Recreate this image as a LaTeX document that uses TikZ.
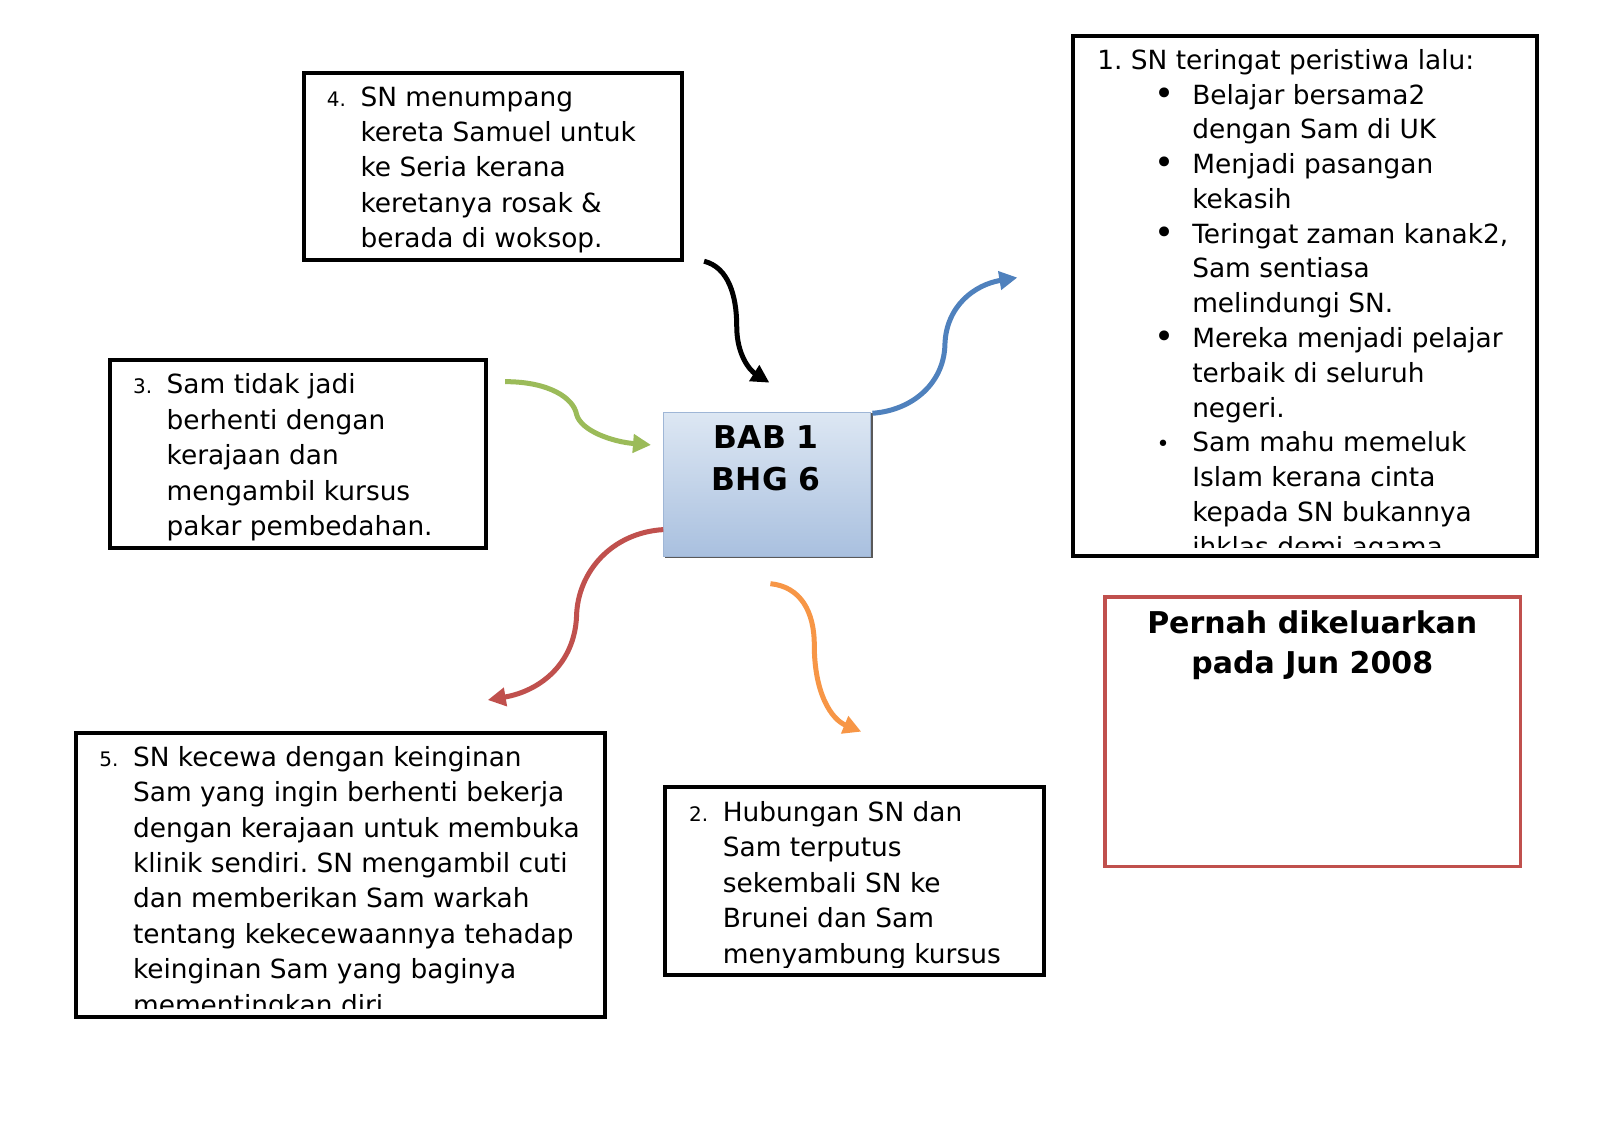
\documentclass[tikz,border=0pt]{standalone}
\usepackage{fontspec}
\setmainfont{DejaVu Sans}
\usetikzlibrary{arrows.meta}
\newlength\upx \setlength\upx{0.5102pt}
\newcommand\bigbul{\raisebox{-0.6pt}{\fontsize{17}{12}\selectfont\textbullet}}
\definecolor{accblue}{HTML}{4F81BD}
\definecolor{accgreen}{HTML}{9BBB59}
\definecolor{accred}{HTML}{C0504D}
\definecolor{accorange}{HTML}{F79646}
\definecolor{ctop}{HTML}{DDE7F3}
\definecolor{cbot}{HTML}{A9C0DF}
\definecolor{cborder}{HTML}{9FB6D6}
\begin{document}
\frenchspacing
\begin{tikzpicture}[x=0.5102pt,y=-0.5102pt,
  framebox/.style={draw=black, line width=2pt, inner sep=0pt, fill=white},
  redbox/.style={draw=accred, line width=1.7pt, inner sep=0pt, fill=white},
  centerbox/.style={inner sep=0pt, top color=ctop, bottom color=cbot, draw=cborder, line width=0.5pt},
  txt/.style={inner sep=0pt, anchor=base west, font=\fontsize{13.2}{17.7}\selectfont},
  txtone/.style={inner sep=0pt, anchor=base west, font=\fontsize{13.2}{17.38}\selectfont},
  num/.style={inner sep=0pt, anchor=base west, font=\fontsize{10}{12}\selectfont},
  boldtxt/.style={inner sep=0pt, anchor=base, font=\fontsize{15}{20}\selectfont\bfseries},
  centertxt/.style={inner sep=0pt, anchor=base, font=\fontsize{15.7}{21.2}\selectfont\bfseries},
  curvearrow/.style={line width=2.5pt, -{Triangle[length=9pt,width=9pt]}}
]
\fill[white] (0,0) rectangle (1568,1107.4);
\useasboundingbox (0,0) rectangle (1568,1107.4);

% boxes
\node[framebox, minimum width=454\upx, minimum height=510\upx] (b1) at (1279,290) {};
\node[framebox, minimum width=370\upx, minimum height=183\upx] (b4) at (483,163.5) {};
\node[framebox, minimum width=368\upx, minimum height=184\upx] (b3) at (292,445) {};
\node[framebox, minimum width=519\upx, minimum height=279\upx] (b5) at (333.5,857.5) {};
\node[framebox, minimum width=371\upx, minimum height=184\upx] (b2) at (837.5,863) {};
\node[redbox, minimum width=407\upx, minimum height=264\upx] (br) at (1286.5,717) {};
\node[centerbox, minimum width=203\upx, minimum height=141\upx] (c) at (751.5,474.5) {};
\draw[black!65, line width=0.8pt] ([xshift=1pt,yshift=-0.4pt]c.south west) -- ([xshift=0.4pt,yshift=-0.4pt]c.south east) -- ([xshift=0.4pt,yshift=-0.5pt]c.north east);

% box 4
\begin{scope}
\clip (300,74) rectangle (666,251);
\node[num] (n4) at (320,104) {4.};
\node[txt] (t4) at (353,104) {\parbox[t]{310\upx}{\raggedright
SN menumpang\\
kereta Samuel untuk\\
ke Seria kerana\\
keretanya rosak \&\\
berada di woksop.}};
\end{scope}

% box 3
\begin{scope}
\clip (110,355) rectangle (474,533);
\node[num] (n3) at (130,386) {3.};
\node[txt] (t3) at (163,386) {\parbox[t]{305\upx}{\raggedright
Sam tidak jadi\\
berhenti dengan\\
kerajaan dan\\
mengambil kursus\\
pakar pembedahan.}};
\end{scope}

% box 5
\begin{scope}
\clip (76,720) rectangle (591,988);
\node[num] (n5) at (97,751) {5.};
\node[txt] (t5) at (130,751) {\parbox[t]{455\upx}{\raggedright
SN kecewa dengan keinginan\\
Sam yang ingin berhenti bekerja\\
dengan kerajaan untuk membuka\\
klinik sendiri. SN mengambil cuti\\
dan memberikan Sam warkah\\
tentang kekecewaannya tehadap\\
keinginan Sam yang baginya\\
mementingkan diri}};
\end{scope}

% box 2
\begin{scope}
\clip (654,773) rectangle (1021,948);
\node[num] (n2) at (675,805) {2.};
\node[txt] (t2) at (708,805) {\parbox[t]{305\upx}{\raggedright
Hubungan SN dan\\
Sam terputus\\
sekembali SN ke\\
Brunei dan Sam\\
menyambung kursus}};
\end{scope}

% box 1
\begin{scope}
\clip (1054,37) rectangle (1504,537);
\node[txtone] (t1) at (1075,68) {\parbox[t]{425\upx}{\raggedright
1. SN teringat peristiwa lalu:\\
\hspace*{56\upx}\makebox[37\upx][l]{\bigbul}Belajar bersama2\\
\hspace*{93\upx}dengan Sam di UK\\
\hspace*{56\upx}\makebox[37\upx][l]{\bigbul}Menjadi pasangan\\
\hspace*{93\upx}kekasih\\
\hspace*{56\upx}\makebox[37\upx][l]{\bigbul}Teringat zaman kanak2,\\
\hspace*{93\upx}Sam sentiasa\\
\hspace*{93\upx}melindungi SN.\\
\hspace*{56\upx}\makebox[37\upx][l]{\bigbul}Mereka menjadi pelajar\\
\hspace*{93\upx}terbaik di seluruh\\
\hspace*{93\upx}negeri.\\
\hspace*{58\upx}\makebox[35\upx][l]{\fontsize{11}{12}\selectfont\textbullet}Sam mahu memeluk\\
\hspace*{93\upx}Islam kerana cinta\\
\hspace*{93\upx}kepada SN bukannya\\
\hspace*{93\upx}ihklas demi agama}};
\end{scope}

% red box title
\node[boldtxt] (tr) at (1286,620.7) {\parbox[t]{400\upx}{\centering
Pernah dikeluarkan\\
pada Jun 2008}};

% center text
\node[centertxt] (tc) at (751,439.4) {\parbox[t]{200\upx}{\centering
BAB 1\\
BHG 6}};

% arrow coordinates
\coordinate (k0) at (690,256);
\coordinate (k1) at (722,320);
\coordinate (k2) at (754,375);
\coordinate (u0) at (855,405);
\coordinate (u1) at (926,338);
\coordinate (u2) at (997,272);
\coordinate (g0) at (495,374);
\coordinate (g1) at (565,406);
\coordinate (g2) at (638,436);
\coordinate (r0) at (650,519);
\coordinate (r1) at (565,604);
\coordinate (r2) at (478,686);
\coordinate (o0) at (755,572);
\coordinate (o1) at (798,632);
\coordinate (o2) at (844,717);

\draw[curvearrow, black] (k0) .. controls (714,262) and (722,290) .. (k1) .. controls (722,348) and (735,363) .. (k2);
\draw[curvearrow, accblue] (u0) .. controls (895,402) and (925,375) .. (u1) .. controls (927,300) and (955,279) .. (u2);
\draw[curvearrow, accgreen] (g0) .. controls (538,374) and (562,390) .. (g1) .. controls (569,422) and (600,433) .. (g2);
\draw[curvearrow, accred] (r0) .. controls (600,522) and (566,560) .. (r1) .. controls (563,650) and (530,677) .. (r2);
\draw[curvearrow, accorange] (o0) .. controls (785,575) and (798,600) .. (o1) .. controls (798,680) and (815,705) .. (o2);
\end{tikzpicture}
\end{document}
